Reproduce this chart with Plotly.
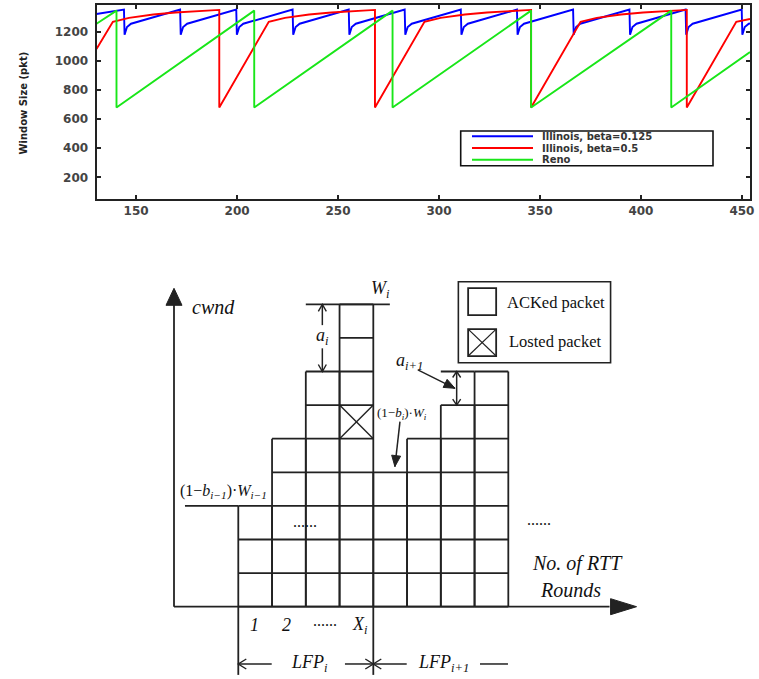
import math
import plotly.graph_objects as go

W, H = 759, 679

# ---------------- top chart: congestion window traces ----------------
blue_name = "Illinois, beta=0.125"
red_name = "Illinois, beta=0.5"
green_name = "Reno"

blue_x = [130.4, 144.0, 144.3, 145.5, 147.5, 171.8, 172.1, 173.3, 175.3,
          199.6, 199.9, 201.1, 203.1, 227.5, 227.8, 229.0, 231.0,
          255.3, 255.6, 256.8, 258.8, 283.0, 283.3, 284.5, 286.5,
          310.8, 311.1, 312.3, 314.3, 338.6, 338.9, 340.1, 342.1,
          366.4, 366.7, 367.9, 369.9, 394.3, 394.6, 395.8, 397.8,
          422.1, 422.4, 423.6, 425.6, 449.9, 450.2, 451.4, 453.4, 454.0]
blue_y = [1322, 1352, 1180, 1232, 1255, 1352, 1180, 1232, 1255,
          1352, 1180, 1232, 1255, 1352, 1180, 1232, 1255,
          1352, 1180, 1232, 1255, 1352, 1180, 1232, 1255,
          1352, 1180, 1232, 1255, 1352, 1180, 1232, 1255,
          1352, 1180, 1232, 1255, 1352, 1180, 1232, 1255,
          1352, 1180, 1232, 1255, 1352, 1180, 1232, 1255, 1257]

red_x = [130.4, 138.5, 146.5, 158.5, 169.5, 191.2,
         191.2, 215.7, 223.7, 235.7, 246.7, 268.3,
         268.3, 292.8, 300.8, 312.8, 323.8, 345.6,
         345.6, 370.1, 378.1, 390.1, 401.1, 422.7,
         422.7, 447.2, 454.0]
red_y = [1082, 1268, 1295, 1318, 1332, 1350,
         680, 1268, 1295, 1318, 1332, 1350,
         680, 1268, 1295, 1318, 1332, 1350,
         680, 1268, 1295, 1318, 1332, 1350,
         680, 1268, 1288]

green_x = [130.4, 140.3, 140.3, 208.5, 208.5, 277.0, 277.0,
           345.6, 345.6, 415.0, 415.0, 454.0]
green_y = [1255, 1345, 680, 1345, 680, 1345, 680,
           1345, 680, 1345, 680, 1060]

x_ticks = [150, 200, 250, 300, 350, 400, 450]
y_ticks = [200, 400, 600, 800, 1000, 1200]
y_title = "Window Size (pkt)"

# ---------------- bottom diagram: packets per RTT round ----------------
col_heights = [3, 5, 7, 9, 4, 5, 6, 7]
lost_col, lost_row = 3, 5
round_labels = ["<i>1</i>", "<i>2</i>", "......", "<i>X<sub>i</sub></i>"]
legend_items = ["ACKed packet", "Losted packet"]

# ---------------- helpers ----------------
def pxx(px):
    return px / W

def pxy(py):
    return 1 - py / H

# diagram axis scale (pixels per unit)
X2_RANGE = [-2.616, 12.198]
Y2_RANGE = [-2.152, 9.872]
SX = 500 / (X2_RANGE[1] - X2_RANGE[0])
SY = 404 / (Y2_RANGE[1] - Y2_RANGE[0])

INK = "#222222"
LW = 1.8

fig = go.Figure()

colors = {"b": "#0000ff", "r": "#ff0000", "g": "#19e619"}
fig.add_trace(go.Scatter(x=blue_x, y=blue_y, mode="lines", name=blue_name,
                         line=dict(color=colors["b"], width=1.9), showlegend=False))
fig.add_trace(go.Scatter(x=red_x, y=red_y, mode="lines", name=red_name,
                         line=dict(color=colors["r"], width=1.9), showlegend=False))
fig.add_trace(go.Scatter(x=green_x, y=green_y, mode="lines", name=green_name,
                         line=dict(color=colors["g"], width=1.9), showlegend=False))

# grid of packets built from column heights
gx, gy = [], []
for c, h in enumerate(col_heights):
    gx += [c, c, None, c + 1, c + 1, None]
    gy += [0, h, None, 0, h, None]
    for r in range(h + 1):
        gx += [c, c + 1, None]
        gy += [r, r, None]
fig.add_trace(go.Scatter(x=gx, y=gy, mode="lines", xaxis="x2", yaxis="y2",
                         line=dict(color=INK, width=LW), showlegend=False,
                         hoverinfo="skip", name="packets"))
# lost packet cross
fig.add_trace(go.Scatter(x=[lost_col, lost_col + 1, None, lost_col, lost_col + 1],
                         y=[lost_row, lost_row + 1, None, lost_row + 1, lost_row],
                         mode="lines", xaxis="x2", yaxis="y2",
                         line=dict(color=INK, width=1.4), showlegend=False,
                         hoverinfo="skip", name="lost"))

shapes = []
annotations = []

def seg(x0, y0, x1, y1, w=LW, ref=("x2", "y2")):
    shapes.append(dict(type="line", xref=ref[0], yref=ref[1], x0=x0, y0=y0,
                       x1=x1, y1=y1, line=dict(color=INK, width=w)))

def head(x0, y0, x1, y1, length, half, filled=True, w=1.4):
    dx, dy = (x1 - x0) * SX, (y1 - y0) * SY
    n = math.hypot(dx, dy)
    ux, uy = dx / n, dy / n
    bx, by = x1 * SX - ux * length, y1 * SY - uy * length
    p1 = ((bx - uy * half) / SX, (by + ux * half) / SY)
    p2 = ((bx + uy * half) / SX, (by - ux * half) / SY)
    if filled:
        path = f"M {x1},{y1} L {p1[0]},{p1[1]} L {p2[0]},{p2[1]} Z"
        shapes.append(dict(type="path", xref="x2", yref="y2", path=path,
                           fillcolor=INK, line=dict(color=INK, width=1)))
    else:
        path = f"M {p1[0]},{p1[1]} L {x1},{y1} L {p2[0]},{p2[1]}"
        shapes.append(dict(type="path", xref="x2", yref="y2", path=path,
                           line=dict(color=INK, width=w)))

def txt(x, y, s, size=18, xanchor="center", ref=("x2", "y2"), family="Liberation Serif",
        color="#111111", **kw):
    annotations.append(dict(x=x, y=y, xref=ref[0], yref=ref[1], text=s, showarrow=False,
                            xanchor=xanchor, yanchor="middle",
                            font=dict(family=family, size=size, color=color), **kw))

# axes of the diagram
AX = -1.905
seg(AX, 0, AX, 9.0)
head(AX, 0, AX, 9.476, 17, 8)
seg(AX, 0, 11.0, 0)
head(AX, 0, 11.80, 0, 26, 8)
txt(-1.43, 8.91, "<i>cwnd</i>", size=20, xanchor="left")

# W_i and a_i
top_col = col_heights.index(max(col_heights))
seg(top_col - 1, col_heights[top_col], 4.49, col_heights[top_col])
txt(4.2, 9.45, "<i>W<sub>i</sub></i>", size=18)
ax_i = top_col - 0.51
seg(ax_i, 9.0, ax_i, 8.38, w=1.5)
seg(ax_i, 7.69, ax_i, 7.0, w=1.5)
head(ax_i, 8.5, ax_i, 9.0, 7, 4, filled=False)
head(ax_i, 7.5, ax_i, 7.0, 7, 4, filled=False)
txt(ax_i, 8.04, "<i>a<sub>i</sub></i>", size=18)

# a_{i+1}
seg(6, 7, 7, 7)
seg(6.47, 7.0, 6.47, 6.0, w=1.5)
head(6.47, 6.5, 6.47, 7.0, 6, 4, filled=False)
head(6.47, 6.5, 6.47, 6.0, 6, 4, filled=False)
txt(5.06, 7.29, "<i>a<sub>i+1</sub></i>", size=18)
seg(5.32, 7.05, 6.42, 6.5, w=1.5)
head(5.32, 7.05, 6.42, 6.5, 11, 4.5)

# (1-b_i) W_i
txt(4.85, 5.76, "(1−<i>b<sub>i</sub></i>)·<i>W<sub>i</sub></i>", size=13)
seg(4.79, 5.51, 4.64, 4.17, w=1.5)
head(4.79, 5.51, 4.64, 4.17, 11, 4.5)

# (1-b_{i-1}) W_{i-1}
seg(-1.58, col_heights[0], 0, col_heights[0])
txt(-0.45, 3.42, "(1−<i>b<sub>i−1</sub></i>)·<i>W<sub>i−1</sub></i>", size=16)

# dots
txt(1.98, 2.53, "......", size=16)
txt(8.9, 2.61, "......", size=16)

# x axis label
txt(10.05, 1.29, "<i>No. of RTT</i>", size=20)
txt(9.83, 0.50, "<i>Rounds</i>", size=20)

# round labels
for xv, lab in zip([0.49, 1.43, 2.57, 3.6], round_labels):
    txt(xv, -0.55 if lab != "......" else -0.42, lab, size=18 if lab != "......" else 16)

# LFP arrows
LY = -1.705
seg(0, 0, 0, -2.03)
seg(4, 0, 4, -2.03)
seg(0, LY, 0.99, LY, w=1.5)
seg(3.16, LY, 4, LY, w=1.5)
seg(4, LY, 4.99, LY, w=1.5)
seg(7.16, LY, 7.99, LY, w=1.5)
head(1, LY, 0, LY, 8, 5, filled=False)
head(3, LY, 4, LY, 8, 5, filled=False)
head(5, LY, 4, LY, 8, 5, filled=False)
txt(2.12, LY, "<i>LFP<sub>i</sub></i>", size=18)
txt(6.07, LY, "<i>LFP<sub>i+1</sub></i>", size=18)

# diagram legend
shapes.append(dict(type="rect", xref="x2", yref="y2", x0=6.52, y0=7.26, x1=11.03, y1=9.67,
                   line=dict(color=INK, width=1.6)))
shapes.append(dict(type="rect", xref="x2", yref="y2", x0=6.81, y0=8.68, x1=7.64, y1=9.48,
                   line=dict(color=INK, width=1.8)))
shapes.append(dict(type="rect", xref="x2", yref="y2", x0=6.81, y0=7.46, x1=7.64, y1=8.26,
                   line=dict(color=INK, width=1.8)))
seg(6.81, 7.46, 7.64, 8.26, w=1.2)
seg(6.81, 8.26, 7.64, 7.46, w=1.2)
txt(7.9, 9.06, legend_items[0], size=16.5, xanchor="left")
txt(7.95, 7.89, legend_items[1], size=16.5, xanchor="left")

# top chart legend (drawn in paper space)
shapes.append(dict(type="rect", xref="paper", yref="paper", x0=pxx(460.7), y0=pxy(165.7),
                   x1=pxx(713), y1=pxy(131), line=dict(color="#111111", width=1.6),
                   fillcolor="white"))
for name, col, py in [(blue_name, colors["b"], 136.3), (red_name, colors["r"], 148.0),
                      (green_name, colors["g"], 159.8)]:
    shapes.append(dict(type="line", xref="paper", yref="paper", x0=pxx(472), x1=pxx(533),
                       y0=pxy(py), y1=pxy(py), line=dict(color=col, width=1.9)))
    annotations.append(dict(x=pxx(540), y=pxy(py), xref="paper", yref="paper", text=name,
                            showarrow=False, xanchor="left", yanchor="middle",
                            font=dict(family="DejaVu Sans", size=10, color="#333333",
                                      weight="bold")))

# y axis title of top chart
annotations.append(dict(x=pxx(23), y=pxy(103.5), xref="paper", yref="paper", text=y_title,
                        showarrow=False, textangle=-90, xanchor="center", yanchor="middle",
                        font=dict(family="DejaVu Sans", size=10, color="#222222",
                                  weight="bold")))

tickfont = dict(family="DejaVu Sans", size=12, color="#444444", weight="bold")
axis_common = dict(showline=True, linewidth=2, linecolor="#222222", mirror="ticks",
                   ticks="inside", ticklen=4, tickwidth=1.5, tickcolor="#222222",
                   showgrid=False, zeroline=False, automargin=False, tickfont=tickfont)

fig.update_layout(
    width=W, height=H, template="none",
    margin=dict(l=0, r=0, t=0, b=0),
    paper_bgcolor="white", plot_bgcolor="white",
    showlegend=False,
    xaxis=dict(domain=[pxx(96.5), pxx(750)], range=[130.4, 454.0], tickvals=x_ticks,
               anchor="y", **axis_common),
    yaxis=dict(domain=[pxy(199), pxy(4.5)], range=[51, 1387], tickvals=y_ticks,
               anchor="x", ticklabelstandoff=4, **axis_common),
    xaxis2=dict(domain=[pxx(150), pxx(650)], range=X2_RANGE, visible=False,
                anchor="y2", fixedrange=True),
    yaxis2=dict(domain=[0, pxy(275)], range=Y2_RANGE, visible=False,
                anchor="x2", fixedrange=True),
    shapes=shapes,
    annotations=annotations,
)

fig.write_html("out.html", config={"displayModeBar": False},
               post_script="document.body.style.margin='0';")
